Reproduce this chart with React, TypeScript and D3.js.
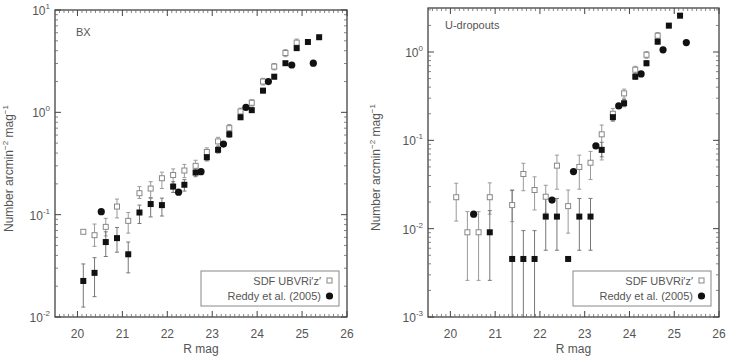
import React from "react";
import * as d3 from "d3";

const W = 741;
const H = 359;

const xTicks = [20, 21, 22, 23, 24, 25, 26];
const bxExps = [-2, -1, 0, 1];
const udExps = [-3, -2, -1, 0];

// BX panel
const bxMag = [20.13, 20.38, 20.63, 20.88, 21.13, 21.38, 21.63, 21.88, 22.13, 22.38, 22.63, 22.88, 23.13, 23.38, 23.63, 23.88, 24.13, 24.38, 24.63, 24.88, 25.13, 25.38];
const bxOpen = [0.068, 0.063, 0.076, 0.12, 0.087, 0.162, 0.18, 0.227, 0.244, 0.27, 0.3, 0.41, 0.52, 0.7, 1.02, 1.24, 2.0, 2.8, 3.8, 4.8, null, null];
const bxOpenLo = [null, 0.049, 0.062, 0.093, 0.066, 0.144, 0.147, 0.18, 0.2, 0.23, 0.26, 0.37, 0.47, 0.64, 0.95, 1.15, 1.85, 2.6, 3.5, 4.4, null, null];
const bxOpenHi = [null, 0.081, 0.092, 0.142, 0.105, 0.188, 0.21, 0.26, 0.28, 0.31, 0.34, 0.45, 0.57, 0.76, 1.1, 1.33, 2.15, 3.0, 4.1, 5.2, null, null];
const bxFilled = [0.0225, 0.027, 0.054, 0.059, 0.041, 0.105, 0.127, 0.124, 0.188, 0.196, 0.258, 0.364, 0.43, 0.61, 0.895, 1.05, 1.63, 2.23, 3.02, 4.24, 4.87, 5.42];
const bxFilledLo = [0.0125, 0.0158, 0.039, 0.043, 0.027, 0.082, 0.095, 0.097, 0.165, 0.17, 0.235, 0.335, 0.4, 0.57, 0.85, 1.0, 1.55, 2.12, 2.9, 4.05, 4.65, 5.2];
const bxFilledHi = [0.033, 0.038, 0.068, 0.075, 0.054, 0.124, 0.145, 0.145, 0.21, 0.22, 0.28, 0.39, 0.46, 0.65, 0.94, 1.1, 1.71, 2.34, 3.14, 4.43, 5.09, 5.64];
const bxReddyMag = [20.53, 22.25, 22.75, 23.25, 23.75, 24.25, 24.77, 25.25];
const bxReddy = [0.107, 0.166, 0.263, 0.49, 1.12, 2.0, 2.9, 3.02];

// U-dropouts panel
const udMag = [20.13, 20.38, 20.63, 20.88, 21.13, 21.38, 21.63, 21.88, 22.13, 22.38, 22.63, 22.88, 23.13, 23.38, 23.63, 23.88, 24.13, 24.38, 24.63, 24.88, 25.13];
const udOpen = [0.0227, 0.0091, 0.0091, 0.0227, null, 0.0185, 0.0416, 0.0274, 0.023, 0.0517, 0.018, 0.05, 0.0558, 0.117, 0.2, 0.34, 0.63, 0.93, 1.53, null, null];
const udOpenLo = [0.0122, 0.0026, 0.0026, 0.0146, null, 0.012, 0.0269, 0.0163, 0.015, 0.028, 0.0089, 0.028, 0.036, 0.06, 0.17, 0.3, 0.57, 0.85, 1.4, null, null];
const udOpenHi = [0.0327, 0.0156, 0.0156, 0.033, null, 0.027, 0.055, 0.0386, 0.031, 0.068, 0.0274, 0.068, 0.075, 0.149, 0.23, 0.38, 0.69, 1.01, 1.66, null, null];
const udFilled = [null, null, null, 0.0091, null, 0.00454, 0.00454, 0.00454, 0.0137, 0.0137, 0.00454, 0.0137, 0.0137, 0.078, 0.183, 0.263, 0.526, 0.746, 1.31, 1.99, 2.58];
const udFilledLo = [null, null, null, 0.0026, null, 0.0005, 0.0005, 0.0005, 0.0057, 0.0057, null, 0.0057, 0.0057, 0.065, 0.165, 0.24, 0.49, 0.7, 1.23, 1.88, 2.45];
const udFilledHi = [null, null, null, 0.016, null, 0.0274, 0.0095, 0.0095, 0.022, 0.022, null, 0.022, 0.022, 0.095, 0.2, 0.29, 0.56, 0.8, 1.4, 2.1, 2.7];
const udReddyMag = [20.52, 22.27, 22.75, 23.25, 23.76, 24.26, 24.75, 25.27];
const udReddy = [0.0146, 0.0211, 0.0443, 0.0865, 0.245, 0.565, 1.06, 1.28];

const FONT = "'Liberation Sans', Arial, sans-serif";
const TXT = "#555";

function Panel(props) {
  const { left, right, top, bottom, yMin, yMax, exps, label, labelX, labelY, mag, open, openLo, openHi, filled, filledLo, filledHi, reddyMag, reddy, titleX } = props;
  const x = d3.scaleLinear().domain([19.5, 26]).range([left, right]);
  const y = d3.scaleLog().domain([yMin, yMax]).range([bottom, top]);
  const cy = (v) => Math.max(top, Math.min(bottom, y(v)));

  const minorX = d3.range(196, 260).map((d) => d / 10).filter((d) => d % 1 !== 0);
  const minorY = [];
  for (let e = exps[0] - 1; e <= exps[exps.length - 1] + 1; e++) {
    for (let k = 2; k <= 9; k++) {
      const v = k * Math.pow(10, e);
      if (v > yMin && v < yMax) minorY.push(v);
    }
  }

  const errBar = (m, lo, hi, key, color) => {
    if (lo == null || hi == null) return null;
    const px = x(m);
    const y1 = cy(lo);
    const y2 = cy(hi);
    return (
      <g key={key} stroke={color} strokeWidth={1}>
        <line x1={px} x2={px} y1={y1} y2={y2} />
        {lo > yMin && <line x1={px - 2} x2={px + 2} y1={y1} y2={y1} />}
        <line x1={px - 2} x2={px + 2} y1={y2} y2={y2} />
      </g>
    );
  };

  const lw = 138;
  const lh = 35;
  const lx = right - 8 - lw;
  const ly = bottom - 11 - lh;
  const cyMid = (top + bottom) / 2 + 5;

  return (
    <g fontFamily={FONT}>
      {/* error bars */}
      {mag.map((m, i) => errBar(m, openLo[i], openHi[i], "eo" + i, "#9a9a9a"))}
      {mag.map((m, i) => errBar(m, filledLo[i], filledHi[i], "ef" + i, "#777"))}
      {/* open squares */}
      {mag.map((m, i) =>
        open[i] == null ? null : (
          <rect key={"o" + i} x={x(m) - 2.5} y={y(open[i]) - 2.5} width={5} height={5} fill="#fff" stroke="#888" strokeWidth={1} />
        )
      )}
      {/* filled squares */}
      {mag.map((m, i) =>
        filled[i] == null ? null : (
          <rect key={"f" + i} x={x(m) - 3} y={y(filled[i]) - 3} width={6} height={6} fill="#111" />
        )
      )}
      {/* Reddy et al. */}
      {reddyMag.map((m, i) => (
        <circle key={"r" + i} cx={x(m)} cy={y(reddy[i])} r={3.6} fill="#111" />
      ))}

      {/* frame */}
      <rect x={left} y={top} width={right - left} height={bottom - top} fill="none" stroke="#333" strokeWidth={1.2} />
      {/* x ticks */}
      {xTicks.map((t) => (
        <g key={"xt" + t} stroke="#444">
          <line x1={x(t)} x2={x(t)} y1={bottom} y2={bottom - 6} />
          <line x1={x(t)} x2={x(t)} y1={top} y2={top + 6} />
        </g>
      ))}
      {minorX.map((t) => (
        <g key={"xm" + t} stroke="#666" strokeWidth={0.8}>
          <line x1={x(t)} x2={x(t)} y1={bottom} y2={bottom - 3} />
          <line x1={x(t)} x2={x(t)} y1={top} y2={top + 3} />
        </g>
      ))}
      {xTicks.map((t) => (
        <text key={"xl" + t} x={x(t)} y={338} textAnchor="middle" fontSize={12} fill={TXT}>
          {t}
        </text>
      ))}
      {/* y ticks */}
      {exps.map((e) => (
        <g key={"yt" + e} stroke="#444">
          <line x1={left} x2={left + 6} y1={y(Math.pow(10, e))} y2={y(Math.pow(10, e))} />
          <line x1={right} x2={right - 6} y1={y(Math.pow(10, e))} y2={y(Math.pow(10, e))} />
        </g>
      ))}
      {minorY.map((v, i) => (
        <g key={"ym" + i} stroke="#666" strokeWidth={0.8}>
          <line x1={left} x2={left + 3} y1={y(v)} y2={y(v)} />
          <line x1={right} x2={right - 3} y1={y(v)} y2={y(v)} />
        </g>
      ))}
      {exps.map((e) => (
        <text key={"yl" + e} x={left - 5} y={y(Math.pow(10, e)) + 5} textAnchor="end" fontSize={12} fill={TXT}>
          10
          <tspan fontSize={8} dy={-6}>{e}</tspan>
        </text>
      ))}

      {/* labels */}
      <text x={labelX} y={labelY} fontSize={11} fill={TXT}>{label}</text>
      <text x={(left + right) / 2} y={353} textAnchor="middle" fontSize={12} fill={TXT}>R mag</text>
      <text transform={`translate(${titleX},${cyMid}) rotate(-90)`} textAnchor="middle" fontSize={12} fill={TXT}>
        Number arcmin<tspan fontSize={8} dy={-5}>−2</tspan>
        <tspan dy={5}> mag</tspan>
        <tspan fontSize={8} dy={-5}>−1</tspan>
      </text>

      {/* legend */}
      <rect x={lx} y={ly} width={lw} height={lh} fill="#fff" stroke="#888" strokeWidth={1} />
      <text x={lx + lw - 18} y={ly + 14} textAnchor="end" fontSize={11} fill={TXT}>SDF UBVRi′z′</text>
      <rect x={lx + lw - 12} y={ly + 7} width={5} height={5} fill="#fff" stroke="#888" />
      <text x={lx + lw - 18} y={ly + 29} textAnchor="end" fontSize={11} fill={TXT}>Reddy et al. (2005)</text>
      <circle cx={lx + lw - 9.5} cy={ly + 25} r={3.6} fill="#111" />
    </g>
  );
}

export default function App() {
  return (
    <div style={{ position: "absolute", left: 0, top: 0 }}>
      <svg width={W} height={H} viewBox={`0 0 ${W} ${H}`} style={{ display: "block", background: "#fff" }}>
        <Panel
          left={55} right={347} top={10} bottom={317}
          yMin={0.01} yMax={10} exps={bxExps}
          label="BX" labelX={76} labelY={36} titleX={13}
          mag={bxMag} open={bxOpen} openLo={bxOpenLo} openHi={bxOpenHi}
          filled={bxFilled} filledLo={bxFilledLo} filledHi={bxFilledHi}
          reddyMag={bxReddyMag} reddy={bxReddy}
        />
        <Panel
          left={428} right={719} top={8} bottom={317}
          yMin={0.001} yMax={3.15} exps={udExps}
          label="U-dropouts" labelX={445} labelY={29} titleX={380}
          mag={udMag} open={udOpen} openLo={udOpenLo} openHi={udOpenHi}
          filled={udFilled} filledLo={udFilledLo} filledHi={udFilledHi}
          reddyMag={udReddyMag} reddy={udReddy}
        />
      </svg>
    </div>
  );
}
